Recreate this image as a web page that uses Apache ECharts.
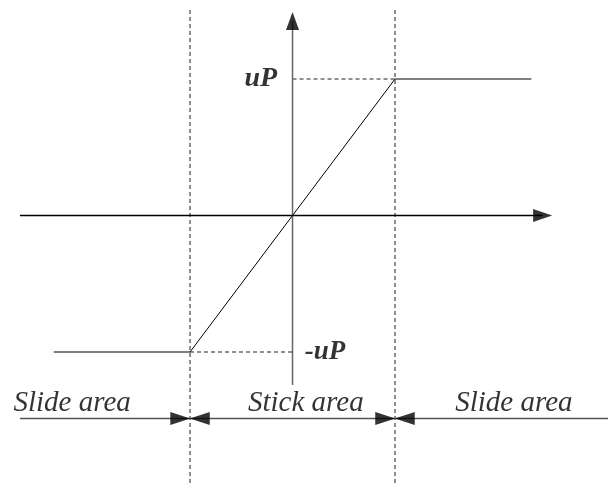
<!DOCTYPE html>
<html>
<head>
<meta charset="utf-8">
<script src="https://cdn.jsdelivr.net/npm/echarts@6/dist/echarts.min.js"></script>
<style>
  html, body { margin: 0; padding: 0; background: #fff; }
  #main { width: 608px; height: 484px; }
</style>
</head>
<body>
<div id="main"></div>
<script>
// friction model: stick / slide regions, normalised units (edge = 1, uP = 1)
var xMin = -2.854, xMax = 3.078;
var yMin = -1.967, yMax = 1.579;

var stickEdge = [-1, 1];
var satX = [-2.33, -1, 1, 2.33];
var satY = [-1, -1, 1, 1];
var levelY = [1, -1];
var levelLabels = ['uP', '-uP'];
var levelLabelX = [-0.15, 0.12];
var areaNames = ['Slide area', 'Stick area', 'Slide area'];
var areaX = [-2.15, 0.13, 2.16];
var areaY = -1.374;
var hAxisX = [-2.66, 2.44];
var vAxisY = [-1.242, 1.425];
var boundY = -1.487;
var boundX = [-2.66, 3.078];

var serif = '"Liberation Serif", "Times New Roman", serif';

function seg(pts, color, width, dash) {
  return {
    type: 'line',
    data: pts,
    symbol: 'none',
    silent: true,
    animation: false,
    lineStyle: { color: color, width: width, type: dash ? [4, 3] : 'solid' },
    z: dash ? 1 : 2
  };
}

function arrow(x, y, rot, size) {
  return {
    type: 'scatter',
    data: [[x, y]],
    symbol: 'triangle',
    symbolSize: size,
    symbolRotate: rot,
    silent: true,
    animation: false,
    itemStyle: { color: '#000' },
    z: 5
  };
}

function text(x, y, str, align, bold, size) {
  return {
    type: 'scatter',
    data: [[x, y]],
    symbolSize: 0,
    silent: true,
    animation: false,
    label: {
      show: true,
      position: 'inside',
      align: align,
      verticalAlign: 'middle',
      formatter: str,
      fontFamily: serif,
      fontStyle: 'italic',
      fontWeight: bold ? 'bold' : 'normal',
      fontSize: size,
      color: '#000'
    },
    z: 6
  };
}

var series = [];
// axes
series.push(seg([[hAxisX[0], 0], [hAxisX[1], 0]], '#000', 1.3));
series.push(seg([[0, vAxisY[0]], [0, vAxisY[1]]], '#666', 1.5));
series.push(arrow(hAxisX[1], 0, -90, [13, 19]));
series.push(arrow(0, vAxisY[1], 0, [13, 18]));
// stick boundaries
stickEdge.forEach(function (e) {
  series.push(seg([[e, 1.505], [e, yMin]], '#333', 1.1, true));
});
// uP levels
series.push(seg([[0, levelY[0]], [stickEdge[1], levelY[0]]], '#222', 1.1, true));
series.push(seg([[stickEdge[0], levelY[1]], [0, levelY[1]]], '#222', 1.1, true));
// characteristic
series.push(seg([[satX[0], satY[0]], [satX[1], satY[1]]], '#555', 1.5));
series.push(seg([[satX[1], satY[1]], [satX[2], satY[2]]], '#000', 1));
series.push(seg([[satX[2], satY[2]], [satX[3], satY[3]]], '#555', 1.5));
// area boundary line with arrows
series.push(seg([[boundX[0], boundY], [boundX[1], boundY]], '#555', 1.5));
stickEdge.forEach(function (e) {
  series.push(arrow(e - 0.095, boundY, -90, [13, 20]));
  series.push(arrow(e + 0.095, boundY, 90, [13, 20]));
});
// labels
series.push(text(levelLabelX[0], levelY[0], levelLabels[0], 'right', true, 28));
series.push(text(levelLabelX[1], levelY[1], levelLabels[1], 'left', true, 27));
areaNames.forEach(function (n, i) {
  series.push(text(areaX[i], areaY, n, 'center', false, 29));
});

var chart = echarts.init(document.getElementById('main'));
chart.setOption({
  backgroundColor: '#fff',
  animation: false,
  grid: { left: 0, right: 0, top: 0, bottom: 0 },
  xAxis: { type: 'value', min: xMin, max: xMax, show: false },
  yAxis: { type: 'value', min: yMin, max: yMax, show: false },
  series: series
});
</script>
</body>
</html>
